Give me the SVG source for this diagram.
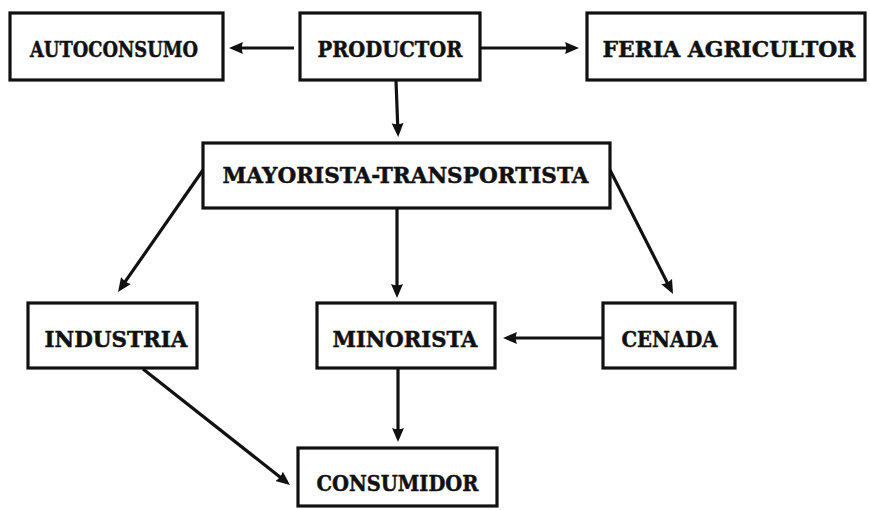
<svg xmlns="http://www.w3.org/2000/svg" width="870" height="510" viewBox="0 0 870 510">
  <style>
    .box { fill: #ffffff; stroke: #111111; stroke-width: 3.2; }
    .label { font-family: "DejaVu Serif", "Liberation Serif", serif; font-weight: bold; font-size: 22px; fill: #111111; stroke: #111111; stroke-width: 0.5; text-anchor: middle; }
    .link { fill: none; stroke: #111111; stroke-width: 3.2; marker-end: url(#head); }
  </style>
  <defs>
    <marker id="head" markerUnits="userSpaceOnUse" markerWidth="15" markerHeight="13" refX="10" refY="6.5" orient="auto">
      <path d="M0,0.5 L14,6.5 L0,12.5 Q2.5,6.5 0,0.5 Z" fill="#111111"/>
    </marker>
  </defs>
  <rect width="870" height="510" fill="#ffffff"/>

  <g id="connectors">
    <path class="link" d="M294,48 L233,48"/>
    <path class="link" d="M480,48 L575,48"/>
    <path class="link" d="M396,81 L398,133"/>
    <path class="link" d="M203,170 L120.3,288.7"/>
    <path class="link" d="M397,208 L397,294"/>
    <path class="link" d="M610,170 L671.2,290.4"/>
    <path class="link" d="M602,338 L507,338"/>
    <path class="link" d="M398,368 L398,438"/>
    <path class="link" d="M143,369 L286.9,482.5"/>
  </g>

  <g id="autoconsumo">
    <rect class="box" x="10" y="13" width="213" height="67"/>
    <text class="label" x="114" y="57" textLength="168" lengthAdjust="spacingAndGlyphs">AUTOCONSUMO</text>
  </g>
  <g id="productor">
    <rect class="box" x="300" y="13" width="180" height="67"/>
    <text class="label" x="390" y="57" textLength="145" lengthAdjust="spacingAndGlyphs">PRODUCTOR</text>
  </g>
  <g id="feria-agricultor">
    <rect class="box" x="587" y="13" width="278" height="67"/>
    <text class="label" x="729" y="57" textLength="253" lengthAdjust="spacingAndGlyphs">FERIA AGRICULTOR</text>
  </g>
  <g id="mayorista-transportista">
    <rect class="box" x="203" y="143" width="407" height="65"/>
    <text class="label" x="405.5" y="183" textLength="366" lengthAdjust="spacingAndGlyphs">MAYORISTA-TRANSPORTISTA</text>
  </g>
  <g id="industria">
    <rect class="box" x="28" y="303" width="169" height="65"/>
    <text class="label" x="116" y="347" textLength="143" lengthAdjust="spacingAndGlyphs">INDUSTRIA</text>
  </g>
  <g id="minorista">
    <rect class="box" x="317" y="303" width="178" height="65"/>
    <text class="label" x="405" y="347" textLength="145" lengthAdjust="spacingAndGlyphs">MINORISTA</text>
  </g>
  <g id="cenada">
    <rect class="box" x="603" y="303" width="132" height="65"/>
    <text class="label" x="669.5" y="347" textLength="96" lengthAdjust="spacingAndGlyphs">CENADA</text>
  </g>
  <g id="consumidor">
    <rect class="box" x="298" y="448" width="199" height="58"/>
    <text class="label" x="397.5" y="491" textLength="162" lengthAdjust="spacingAndGlyphs">CONSUMIDOR</text>
  </g>
</svg>
